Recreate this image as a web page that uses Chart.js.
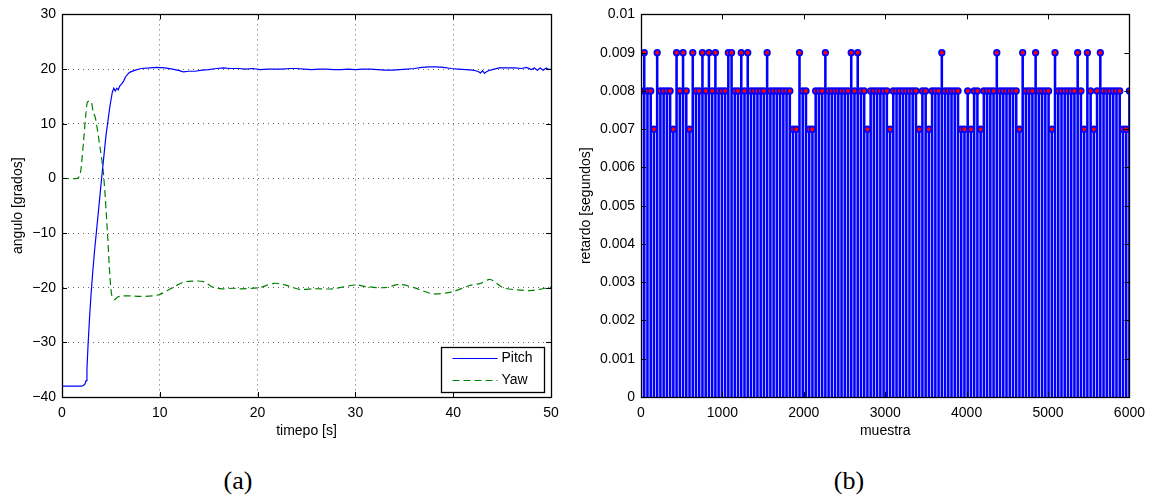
<!DOCTYPE html>
<html lang="es">
<head>
<meta charset="UTF-8">
<title>Pitch / Yaw y retardo</title>
<script src="https://cdn.jsdelivr.net/npm/chart.js@4"></script>
<style>
  body { margin: 0; background: #fff; width: 1153px; height: 501px; position: relative; overflow: hidden; }
  canvas { position: absolute; top: 0; }
  #chartA { left: 0; }
  #chartB { left: 576px; }
  .cap { position: absolute; top: 466px; font: 26px "Liberation Serif", serif; color: #000; transform: translateX(-50%); }
</style>
</head>
<body>
<canvas id="chartA" width="576" height="460"></canvas>
<canvas id="chartB" width="577" height="460"></canvas>
<div class="cap" style="left:238px">(a)</div>
<div class="cap" style="left:849px">(b)</div>

<script>
// (a) angulo vs tiempo
const pitchT = [0, 2.0, 2.2, 2.35, 2.46, 2.55, 2.65, 2.8, 2.95, 3.15, 3.33, 3.7, 4.05, 4.5, 4.9, 5.15, 5.3, 5.45, 5.6, 5.75,
  5.9, 6.1, 6.3, 6.5, 6.9, 7.5, 8.1, 9, 9.7, 10.5, 11.3, 12, 12.4, 13, 13.6, 14.3, 15, 15.8, 16.5, 17.2,
  18, 18.8, 19.5, 20.3, 21, 21.8, 22.5, 23.3, 24, 24.8, 25.5, 26.3, 27, 27.8, 28.5, 29.3, 30, 30.8, 31.5, 32.3,
  33, 33.8, 34.5, 35.3, 36, 36.8, 37.5, 38.3, 39, 39.8, 40.5, 41.3, 42, 42.5, 42.8, 43.0, 43.2, 43.4, 43.6, 44,
  44.7, 45.5, 46.3, 47, 47.5, 48, 48.3, 48.6, 48.9, 49.2, 49.5, 49.8, 50];
const pitchV = [-38, -38, -37.9, -37.6, -37, -35, -31, -26, -21.7, -17, -13.2, -6.5, 0, 7.9, 13.2, 15.8, 16.5, 16.0, 16.5, 16.2,
  16.9, 17.3, 17.8, 18.6, 19.4, 19.8, 20.1, 20.2, 20.3, 20.2, 20.0, 19.7, 19.5, 19.6, 19.6, 19.8, 19.9, 20.1, 20.2, 20.1,
  20.1, 20.0, 20.1, 19.9, 20.0, 20.0, 20.0, 20.1, 20.1, 20.0, 19.9, 20.0, 20.0, 19.9, 19.9, 20.0, 19.9, 20.0, 20.0, 19.9,
  19.8, 19.8, 19.9, 20.0, 20.1, 20.3, 20.4, 20.4, 20.3, 20.1, 20.0, 19.9, 19.8, 19.6, 19.3, 19.7, 19.2, 19.5, 19.7, 19.9,
  20.2, 20.2, 20.2, 20.1, 20.3, 19.9, 20.2, 19.8, 20.2, 19.8, 20.2, 19.9, 20.0];

const yawT = [0, 1.6, 1.8, 1.95, 2.2, 2.45, 2.6, 2.8, 3.0, 3.2, 3.4, 3.9, 4.25, 4.65, 4.9, 5.1, 5.35, 5.7, 6.2, 7,
  8, 9.2, 9.9, 11.1, 12.4, 13.3, 14.5, 15.4, 16.4, 17.5, 18.3, 20.1, 21.7, 22.8, 24.3, 25.8, 27.7, 30, 31.1, 33,
  34.5, 36, 37.9, 39.8, 41.7, 42.8, 43.8, 45.1, 46.6, 48.1, 50];
const yawV = [0, 0, 0.5, 1.8, 6.7, 12, 14, 14.1, 14, 12, 11.2, 5.5, 0.7, -10, -18, -21.5, -22.2, -21.7, -21.5, -21.5,
  -21.6, -21.5, -21.3, -20.2, -19, -18.8, -18.9, -19.9, -20.2, -20.1, -20.2, -20, -19.2, -19.5, -20.3, -20.2, -20.2, -19.5, -19.8, -20,
  -19.4, -20, -21.1, -20.8, -19.6, -19.2, -18.5, -20, -20.4, -20.5, -19.9];

const xTicksA = ['0', '10', '20', '30', '40', '50'];
const yTicksA = ['\u221240', '\u221230', '\u221220', '\u221210', '0', '10', '20', '30'];

// (b) retardo por muestra (cada 40 muestras)
const retardo = [
  .008, .009, .008, .008, .007, .009, .008, .008, .008, .008,
  .007, .009, .008, .009, .008, .007, .009, .008, .008, .009,
  .008, .009, .008, .009, .008, .008, .008, .009, .009, .008,
  .008, .009, .008, .009, .008, .008, .008, .008, .008, .009,
  .008, .008, .008, .008, .008, .008, .008, .007, .007, .009,
  .008, .008, .007, .007, .008, .008, .008, .009, .008, .008,
  .008, .008, .008, .008, .008, .009, .008, .009, .008, .008,
  .007, .008, .008, .008, .008, .008, .008, .007, .008, .008,
  .008, .008, .008, .008, .008, .008, .007, .008, .008, .007,
  .008, .008, .008, .009, .008, .008, .008, .008, .008, .007,
  .007, .008, .007, .008, .008, .007, .008, .008, .008, .008,
  .009, .008, .008, .008, .008, .008, .008, .007, .009, .008,
  .008, .008, .009, .008, .008, .008, .008, .007, .009, .008,
  .008, .008, .008, .008, .008, .009, .008, .007, .009, .008,
  .007, .008, .009, .008, .008, .008, .008, .008, .008, .007,
  .007, .008];
const muestra = retardo.map((_, i) => i * 40);
const xTicksB = ['0', '1000', '2000', '3000', '4000', '5000', '6000'];
const yTicksB = ['0', '0.001', '0.002', '0.003', '0.004', '0.005', '0.006', '0.007', '0.008', '0.009', '0.01'];

const font = { family: '"Liberation Sans", Arial, sans-serif', size: 14 };

// marco negro y marcas hacia dentro, estilo matlab
const boxPlugin = {
  id: 'box',
  afterDraw(chart) {
    const { ctx, chartArea: a, scales: { x, y } } = chart;
    const L = 5;
    ctx.save();
    ctx.strokeStyle = '#000';
    ctx.lineWidth = 1;
    ctx.beginPath();
    x.ticks.forEach(t => {
      const px = Math.round(x.getPixelForValue(t.value)) + 0.5;
      ctx.moveTo(px, a.bottom); ctx.lineTo(px, a.bottom - L);
      ctx.moveTo(px, a.top); ctx.lineTo(px, a.top + L);
    });
    y.ticks.forEach(t => {
      const py = Math.round(y.getPixelForValue(t.value)) + 0.5;
      ctx.moveTo(a.left, py); ctx.lineTo(a.left + L, py);
      ctx.moveTo(a.right, py); ctx.lineTo(a.right - L, py);
    });
    ctx.stroke();
    ctx.lineWidth = 1.3;
    ctx.strokeRect(Math.round(a.left) + 0.5, Math.round(a.top) + 0.5,
      Math.round(a.right - a.left), Math.round(a.bottom - a.top));
    ctx.restore();
  }
};

const legendPlugin = {
  id: 'boxLegend',
  afterDraw(chart) {
    const { ctx, chartArea: a } = chart;
    const w = 103, h = 45;
    const x0 = Math.round(a.right - 7 - w) + 0.5, y0 = Math.round(a.bottom - 5 - h) + 0.5;
    ctx.save();
    ctx.fillStyle = '#fff';
    ctx.fillRect(x0, y0, w, h);
    ctx.strokeStyle = '#000';
    ctx.lineWidth = 1.3;
    ctx.strokeRect(x0, y0, w, h);
    chart.data.datasets.forEach((ds, i) => {
      const yy = y0 + 11 + i * 22;
      ctx.strokeStyle = ds.borderColor;
      ctx.lineWidth = ds.borderWidth;
      ctx.setLineDash(ds.borderDash || []);
      ctx.beginPath();
      ctx.moveTo(x0 + 11, yy); ctx.lineTo(x0 + 56, yy);
      ctx.stroke();
      ctx.setLineDash([]);
      ctx.fillStyle = '#000';
      ctx.font = '14px "Liberation Sans", Arial, sans-serif';
      ctx.textBaseline = 'middle';
      ctx.fillText(ds.label, x0 + 60, yy);
    });
    ctx.restore();
  }
};

function axisTitle(text, pad) {
  return { display: true, text: text, color: '#000', font: font, padding: pad };
}

new Chart(document.getElementById('chartA'), {
  type: 'line',
  data: {
    datasets: [
      { label: 'Pitch', data: pitchT.map((t, i) => ({ x: t, y: pitchV[i] })),
        borderColor: '#0000ff', borderWidth: 1.2, pointRadius: 0, tension: 0 },
      { label: 'Yaw', data: yawT.map((t, i) => ({ x: t, y: yawV[i] })),
        borderColor: '#008000', borderWidth: 1.2, borderDash: [7, 4], pointRadius: 0, tension: 0.3 }
    ]
  },
  options: {
    responsive: false,
    animation: false,
    layout: { padding: { left: 0, right: 25, top: 12, bottom: 20 } },
    plugins: { legend: { display: false }, tooltip: { enabled: false } },
    scales: {
      x: {
        type: 'linear', min: 0, max: 50,
        ticks: { stepSize: 10, padding: 8, color: '#000', font: font, maxRotation: 0, includeBounds: false,
          callback: (v, i) => xTicksA[i] },
        grid: { color: '#666', drawTicks: false },
        border: { color: '#000', dash: [1, 4] },
        title: axisTitle('timepo [s]', { top: 0, bottom: 0 }),
        afterFit: s => { s.height = 43; }
      },
      y: {
        min: -40, max: 30,
        ticks: { stepSize: 10, padding: 6, color: '#000', font: font, includeBounds: false,
          callback: (v, i) => yTicksA[i] },
        grid: { color: '#666', drawTicks: false },
        border: { color: '#000', dash: [1, 4] },
        title: axisTitle('angulo [grados]', { top: 10, bottom: 0 }),
        afterFit: s => { s.width = 62; }
      }
    }
  },
  plugins: [boxPlugin, legendPlugin]
});

new Chart(document.getElementById('chartB'), {
  type: 'bar',
  data: {
    datasets: [
      { type: 'scatter', label: 'retardo', data: muestra.map((m, i) => ({ x: m, y: retardo[i] })),
        pointRadius: 2.8, pointBorderWidth: 1.7, pointBorderColor: '#0000ff', pointBackgroundColor: '#ff0000',
        showLine: false, order: 0 },
      { type: 'bar', label: 'stem', data: muestra.map((m, i) => ({ x: m, y: retardo[i] })),
        backgroundColor: '#0000ff', borderWidth: 0, barThickness: 1.9, grouped: false, order: 1 }
    ]
  },
  options: {
    responsive: false,
    animation: false,
    layout: { padding: { left: 0, right: 23, top: 12, bottom: 20 } },
    plugins: { legend: { display: false }, tooltip: { enabled: false } },
    scales: {
      x: {
        type: 'linear', min: 0, max: 6040, offset: false,
        ticks: { stepSize: 1000, padding: 8, color: '#000', font: font, maxRotation: 0, includeBounds: false,
          callback: (v, i) => xTicksB[i] },
        grid: { display: false, drawTicks: false },
        border: { color: '#000' },
        title: axisTitle('muestra', { top: 0, bottom: 0 }),
        afterFit: s => { s.height = 43; }
      },
      y: {
        min: 0, max: 0.01,
        ticks: { stepSize: 0.001, padding: 6, color: '#000', font: font, includeBounds: false,
          callback: (v, i) => yTicksB[i] },
        grid: { display: false, drawTicks: false },
        border: { color: '#000' },
        title: axisTitle('retardo [segundos]', { top: 2, bottom: 0 }),
        afterFit: s => { s.width = 65; }
      }
    }
  },
  plugins: [boxPlugin]
});
</script>
</body>
</html>
